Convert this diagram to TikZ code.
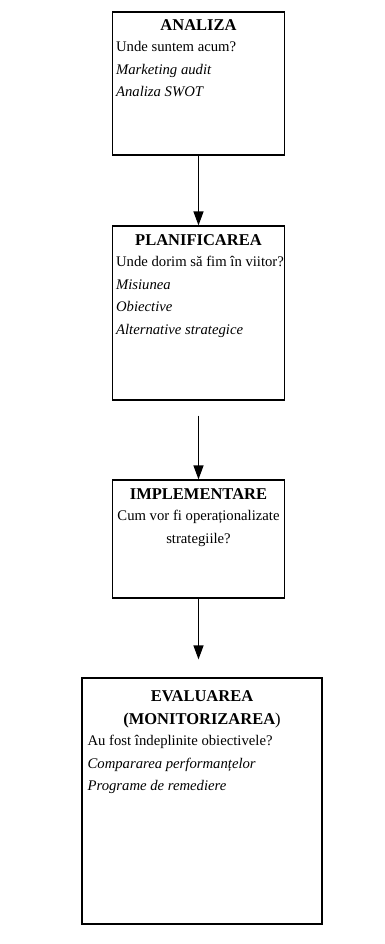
\documentclass[tikz,border=0pt]{standalone}
\usepackage{fontspec}
\setmainfont{Liberation Serif}
\usetikzlibrary{arrows.meta,positioning}

\tikzset{
    etapa/.style={draw, line width=1.2pt, inner sep=0pt},
    textetapa/.style={inner sep=0pt, align=left, anchor=north west,
        font=\fontsize{14.7}{22.5}\selectfont},
    titlu/.style={inner sep=0pt, anchor=north, font=\fontsize{16.5}{22.5}\selectfont\bfseries},
    sageata/.style={line width=1.2pt, -{Triangle[width=10pt,length=14pt]}}
}

\begin{document}
\begin{tikzpicture}[x=1pt,y=1pt]
        \useasboundingbox (0,0) rectangle (385,-944);

        % cutiile
        \node[etapa, minimum width=172, minimum height=143] (analiza) at (198.5,-83.5) {};
        \node[etapa, minimum width=172, minimum height=174] (planif) at (198.5,-313) {};
        \node[etapa, minimum width=172, minimum height=118] (implem) at (198.5,-539) {};
        \node[etapa, minimum width=240, minimum height=246] (evaluare) at (202,-801) {};

        % textele
        \node[titlu] (tAnaliza) at ([yshift=-8]analiza.north) {ANALIZA};
        \node[textetapa] (dAnaliza) at ([xshift=4,yshift=-30]analiza.north west)
            {Unde suntem acum?\\ \textit{Marketing audit}\\ \textit{Analiza SWOT}};

        \node[titlu] (tPlanif) at ([yshift=-9]planif.north) {PLANIFICAREA};
        \node[textetapa] (dPlanif) at ([xshift=4,yshift=-31]planif.north west)
            {Unde dorim să fim în viitor?\\ \textit{Misiunea}\\ \textit{Obiective}\\
             \textit{Alternative strategice}};

        \node[titlu] (tImplem) at ([yshift=-9]implem.north) {IMPLEMENTARE};
        \node[textetapa, anchor=north, align=center] (dImplem) at ([yshift=-31]implem.north)
            {Cum vor fi operaționalizate\\ strategiile?};

        \node[titlu, align=center] (tEvaluare) at ([yshift=-13]evaluare.north)
            {EVALUAREA\\ (MONITORIZAREA\textmd{)}};
        \node[textetapa] (dEvaluare) at ([xshift=6,yshift=-58]evaluare.north west)
            {Au fost îndeplinite obiectivele?\\ \textit{Compararea performanțelor}\\
             \textit{Programe de remediere}};

        % sagetile
        \coordinate (start2) at ([yshift=-15]planif.south);
        \coordinate (stop3) at ([yshift=18]evaluare.north -| implem.south);
        \draw[sageata] (analiza) -- (planif);
        \draw[sageata] (start2) -- (implem);
        \draw[sageata] (implem) -- (stop3);
    \end{tikzpicture}
\end{document}
